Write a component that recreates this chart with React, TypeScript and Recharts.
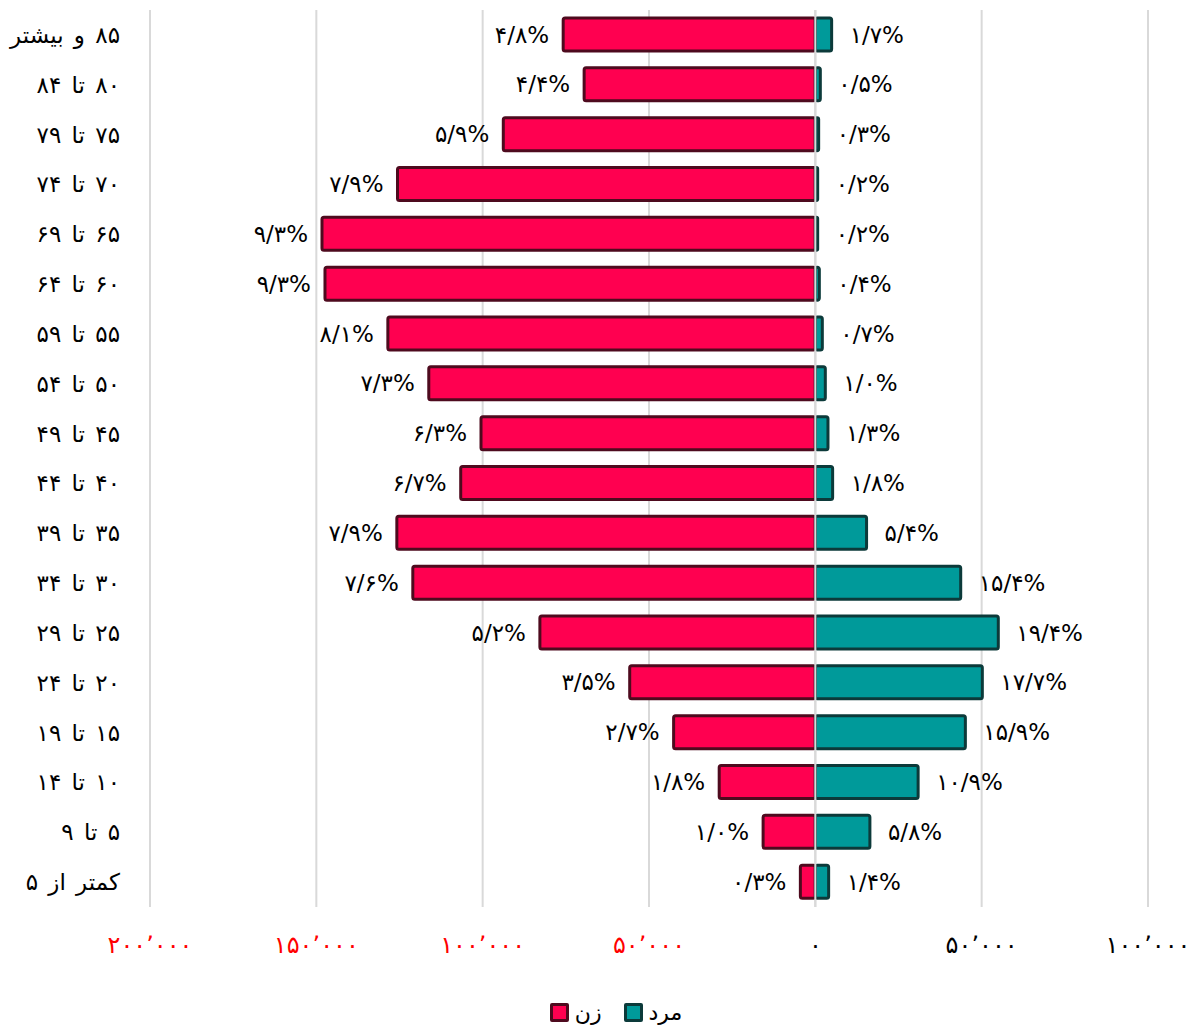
import React from 'react';
import { BarChart, Bar, XAxis, YAxis, CartesianGrid, ReferenceLine, Legend, LabelList } from 'recharts';

const ageGroups = ['۸۵ و بیشتر', '۸۰ تا ۸۴', '۷۵ تا ۷۹', '۷۰ تا ۷۴', '۶۵ تا ۶۹', '۶۰ تا ۶۴', '۵۵ تا ۵۹', '۵۰ تا ۵۴', '۴۵ تا ۴۹', '۴۰ تا ۴۴', '۳۵ تا ۳۹', '۳۰ تا ۳۴', '۲۵ تا ۲۹', '۲۰ تا ۲۴', '۱۵ تا ۱۹', '۱۰ تا ۱۴', '۵ تا ۹', 'کمتر از ۵'];
const womenCount = [75800, 69500, 93800, 125600, 148300, 147400, 128500, 116200, 100500, 106600, 125800, 121000, 82800, 55800, 42600, 28900, 15700, 4500];
const menCount = [4900, 1500, 1000, 700, 700, 1200, 2100, 3000, 3800, 5200, 15400, 43700, 55000, 50200, 45100, 30900, 16400, 4000];
const womenPct = [4.8, 4.4, 5.9, 7.9, 9.3, 9.3, 8.1, 7.3, 6.3, 6.7, 7.9, 7.6, 5.2, 3.5, 2.7, 1.8, 1.0, 0.3];
const menPct = [1.7, 0.5, 0.3, 0.2, 0.2, 0.4, 0.7, 1.0, 1.3, 1.8, 5.4, 15.4, 19.4, 17.7, 15.9, 10.9, 5.8, 1.4];
const xTicks = [-200000, -150000, -100000, -50000, 0, 50000, 100000];
const seriesNames = { women: 'زن', men: 'مرد' };

const WOMEN_FILL = '#FF0050';
const WOMEN_STROKE = '#4E0A1E';
const MEN_FILL = '#009A9A';
const MEN_STROKE = '#0C3A3A';
const FONT = '"DejaVu Sans", sans-serif';

const data = ageGroups.map((age, i) => ({
  age,
  women: -womenCount[i],
  men: menCount[i],
  wPct: womenPct[i],
  mPct: menPct[i],
}));

const fa = (s: string) => s.replace(/\d/g, (d) => '۰۱۲۳۴۵۶۷۸۹'[+d]);
const fmtTick = (v: number) => fa(Math.abs(v).toLocaleString('en-US')).replace(/,/g, '٬');
const fmtPct = (v: number) => fa(v.toFixed(1)).replace('.', '/') + '%';

const YTick = (props: any) => {
  const { x, y, payload } = props;
  return (
    <text x={x} y={y} textAnchor="end" dominantBaseline="central" fontSize={23} style={{ wordSpacing: '3px' }} fill="#000" fontFamily={FONT}>
      {'\u200F' + payload.value}
    </text>
  );
};

const XTick = (props: any) => {
  const { x, y, payload } = props;
  const v = payload.value as number;
  return (
    <text x={x} y={y + 30} textAnchor="middle" dominantBaseline="central" fontSize={24} fill={v < 0 ? '#FF0000' : '#000'} fontFamily={FONT}>
      {fmtTick(v)}
    </text>
  );
};

const WomenLabel = (props: any) => {
  const { x, y, width, height, value } = props;
  const left = Math.min(x, x + width);
  return (
    <text x={left - 14} y={y + height / 2} textAnchor="end" dominantBaseline="central" fontSize={23} fill="#000" fontFamily={FONT}>
      {fmtPct(value)}
    </text>
  );
};

const MenLabel = (props: any) => {
  const { x, y, width, height, value } = props;
  const right = Math.max(x, x + width);
  return (
    <text x={right + 18} y={y + height / 2} textAnchor="start" dominantBaseline="central" fontSize={23} fill="#000" fontFamily={FONT}>
      {fmtPct(value)}
    </text>
  );
};

const LegendBox = ({ fill, stroke }: { fill: string; stroke: string }) => (
  <span style={{ display: 'inline-block', width: 13, height: 13, background: fill, border: `3px solid ${stroke}`, borderRadius: 2 }} />
);

const CustomLegend = () => (
  <div style={{ height: 62, display: 'flex', justifyContent: 'center', alignItems: 'flex-end', paddingLeft: 32, boxSizing: 'border-box', fontFamily: FONT, fontSize: 22, color: '#000' }}>
    <div style={{ display: 'flex', alignItems: 'center', gap: 6, marginBottom: 4 }}>
      <LegendBox fill={WOMEN_FILL} stroke={WOMEN_STROKE} />
      <span>{seriesNames.women}</span>
      <span style={{ width: 10 }} />
      <LegendBox fill={MEN_FILL} stroke={MEN_STROKE} />
      <span>{seriesNames.men}</span>
    </div>
  </div>
);

export default function App() {
  return (
    <div style={{ position: 'absolute', left: 0, top: 0 }}>
      <BarChart
        width={1200}
        height={1029}
        data={data}
        layout="vertical"
        stackOffset="sign"
        barSize={33}
        margin={{ top: 10, right: 52, bottom: 0, left: 0 }}
      >
        <CartesianGrid horizontal={false} stroke="#d9d9d9" strokeWidth={2} />
        <XAxis
          type="number"
          domain={[-200000, 100000]}
          ticks={xTicks}
          axisLine={false}
          tickLine={false}
          height={60}
          tick={<XTick />}
          interval={0}
        />
        <YAxis
          type="category"
          dataKey="age"
          width={150}
          axisLine={false}
          tickLine={false}
          tick={<YTick />}
          interval={0}
          tickMargin={24}
        />
        <Bar dataKey="women" stackId="a" fill={WOMEN_FILL} stroke={WOMEN_STROKE} strokeWidth={3} radius={2} isAnimationActive={false}>
          <LabelList dataKey="wPct" content={<WomenLabel />} />
        </Bar>
        <Bar dataKey="men" stackId="a" fill={MEN_FILL} stroke={MEN_STROKE} strokeWidth={3} radius={2} isAnimationActive={false}>
          <LabelList dataKey="mPct" content={<MenLabel />} />
        </Bar>
        <ReferenceLine x={0} stroke="#d9d9d9" strokeWidth={2} />
        <Legend verticalAlign="bottom" wrapperStyle={{ left: 0, width: 1200 }} content={<CustomLegend />} />
      </BarChart>
    </div>
  );
}
